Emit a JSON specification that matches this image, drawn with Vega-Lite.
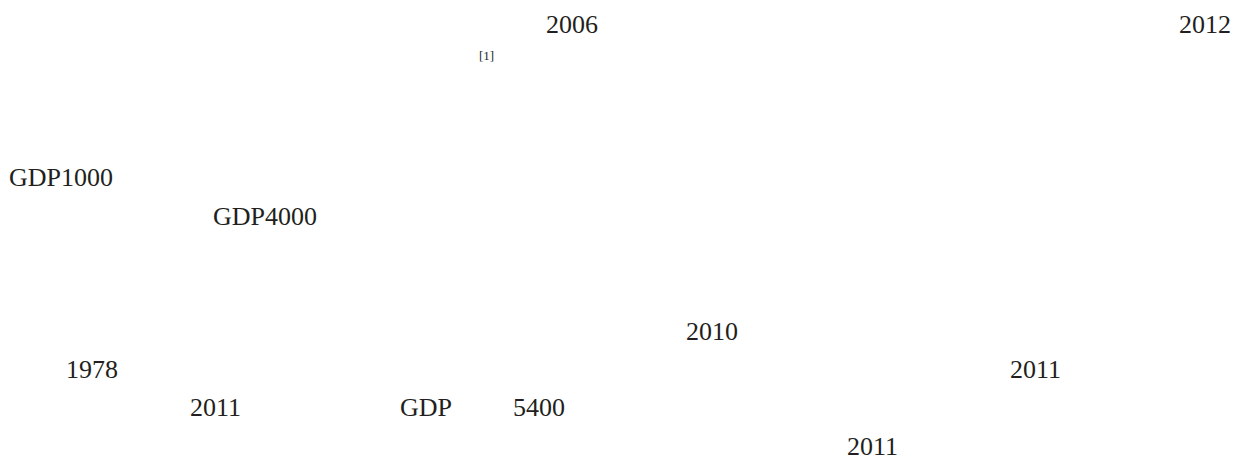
{
  "$schema": "https://vega.github.io/schema/vega-lite/v6.json",
  "width": 1238,
  "height": 460,
  "autosize": {"type": "fit", "contains": "padding"},
  "padding": 0,
  "background": "white",
  "view": {"stroke": null},
  "data": {
    "values": [
      {"label": "2006", "col": 546, "line": 0, "role": "body"},
      {"label": "2012", "col": 1179, "line": 0, "role": "body"},
      {"label": "[1]", "col": 479, "line": 1, "role": "note"},
      {"label": "GDP1000", "col": 9, "line": 4, "role": "body"},
      {"label": "GDP4000", "col": 213, "line": 5, "role": "body"},
      {"label": "2010", "col": 686, "line": 8, "role": "body"},
      {"label": "1978", "col": 66, "line": 9, "role": "body"},
      {"label": "2011", "col": 1010, "line": 9, "role": "body"},
      {"label": "2011", "col": 190, "line": 10, "role": "body"},
      {"label": "GDP", "col": 400, "line": 10, "role": "body"},
      {"label": "5400", "col": 513, "line": 10, "role": "body"},
      {"label": "2011", "col": 847, "line": 11, "role": "body"}
    ]
  },
  "encoding": {
    "x": {"field": "col", "type": "quantitative", "scale": {"domain": [0, 1238], "nice": false, "zero": false}, "axis": null},
    "y": {"field": "line", "type": "quantitative", "scale": {"domain": [-0.65, 11.267], "nice": false, "zero": false, "reverse": true}, "axis": null},
    "text": {"field": "label", "type": "nominal"}
  },
  "layer": [
    {
      "transform": [{"filter": "datum.role === 'body'"}],
      "mark": {"type": "text", "align": "left", "baseline": "middle", "font": "Liberation Serif", "fontSize": 26, "color": "#231f20"}
    },
    {
      "transform": [{"filter": "datum.role === 'note'"}],
      "mark": {"type": "text", "align": "left", "baseline": "middle", "font": "Liberation Serif", "fontSize": 13, "dy": -7, "color": "#231f20"}
    }
  ]
}
